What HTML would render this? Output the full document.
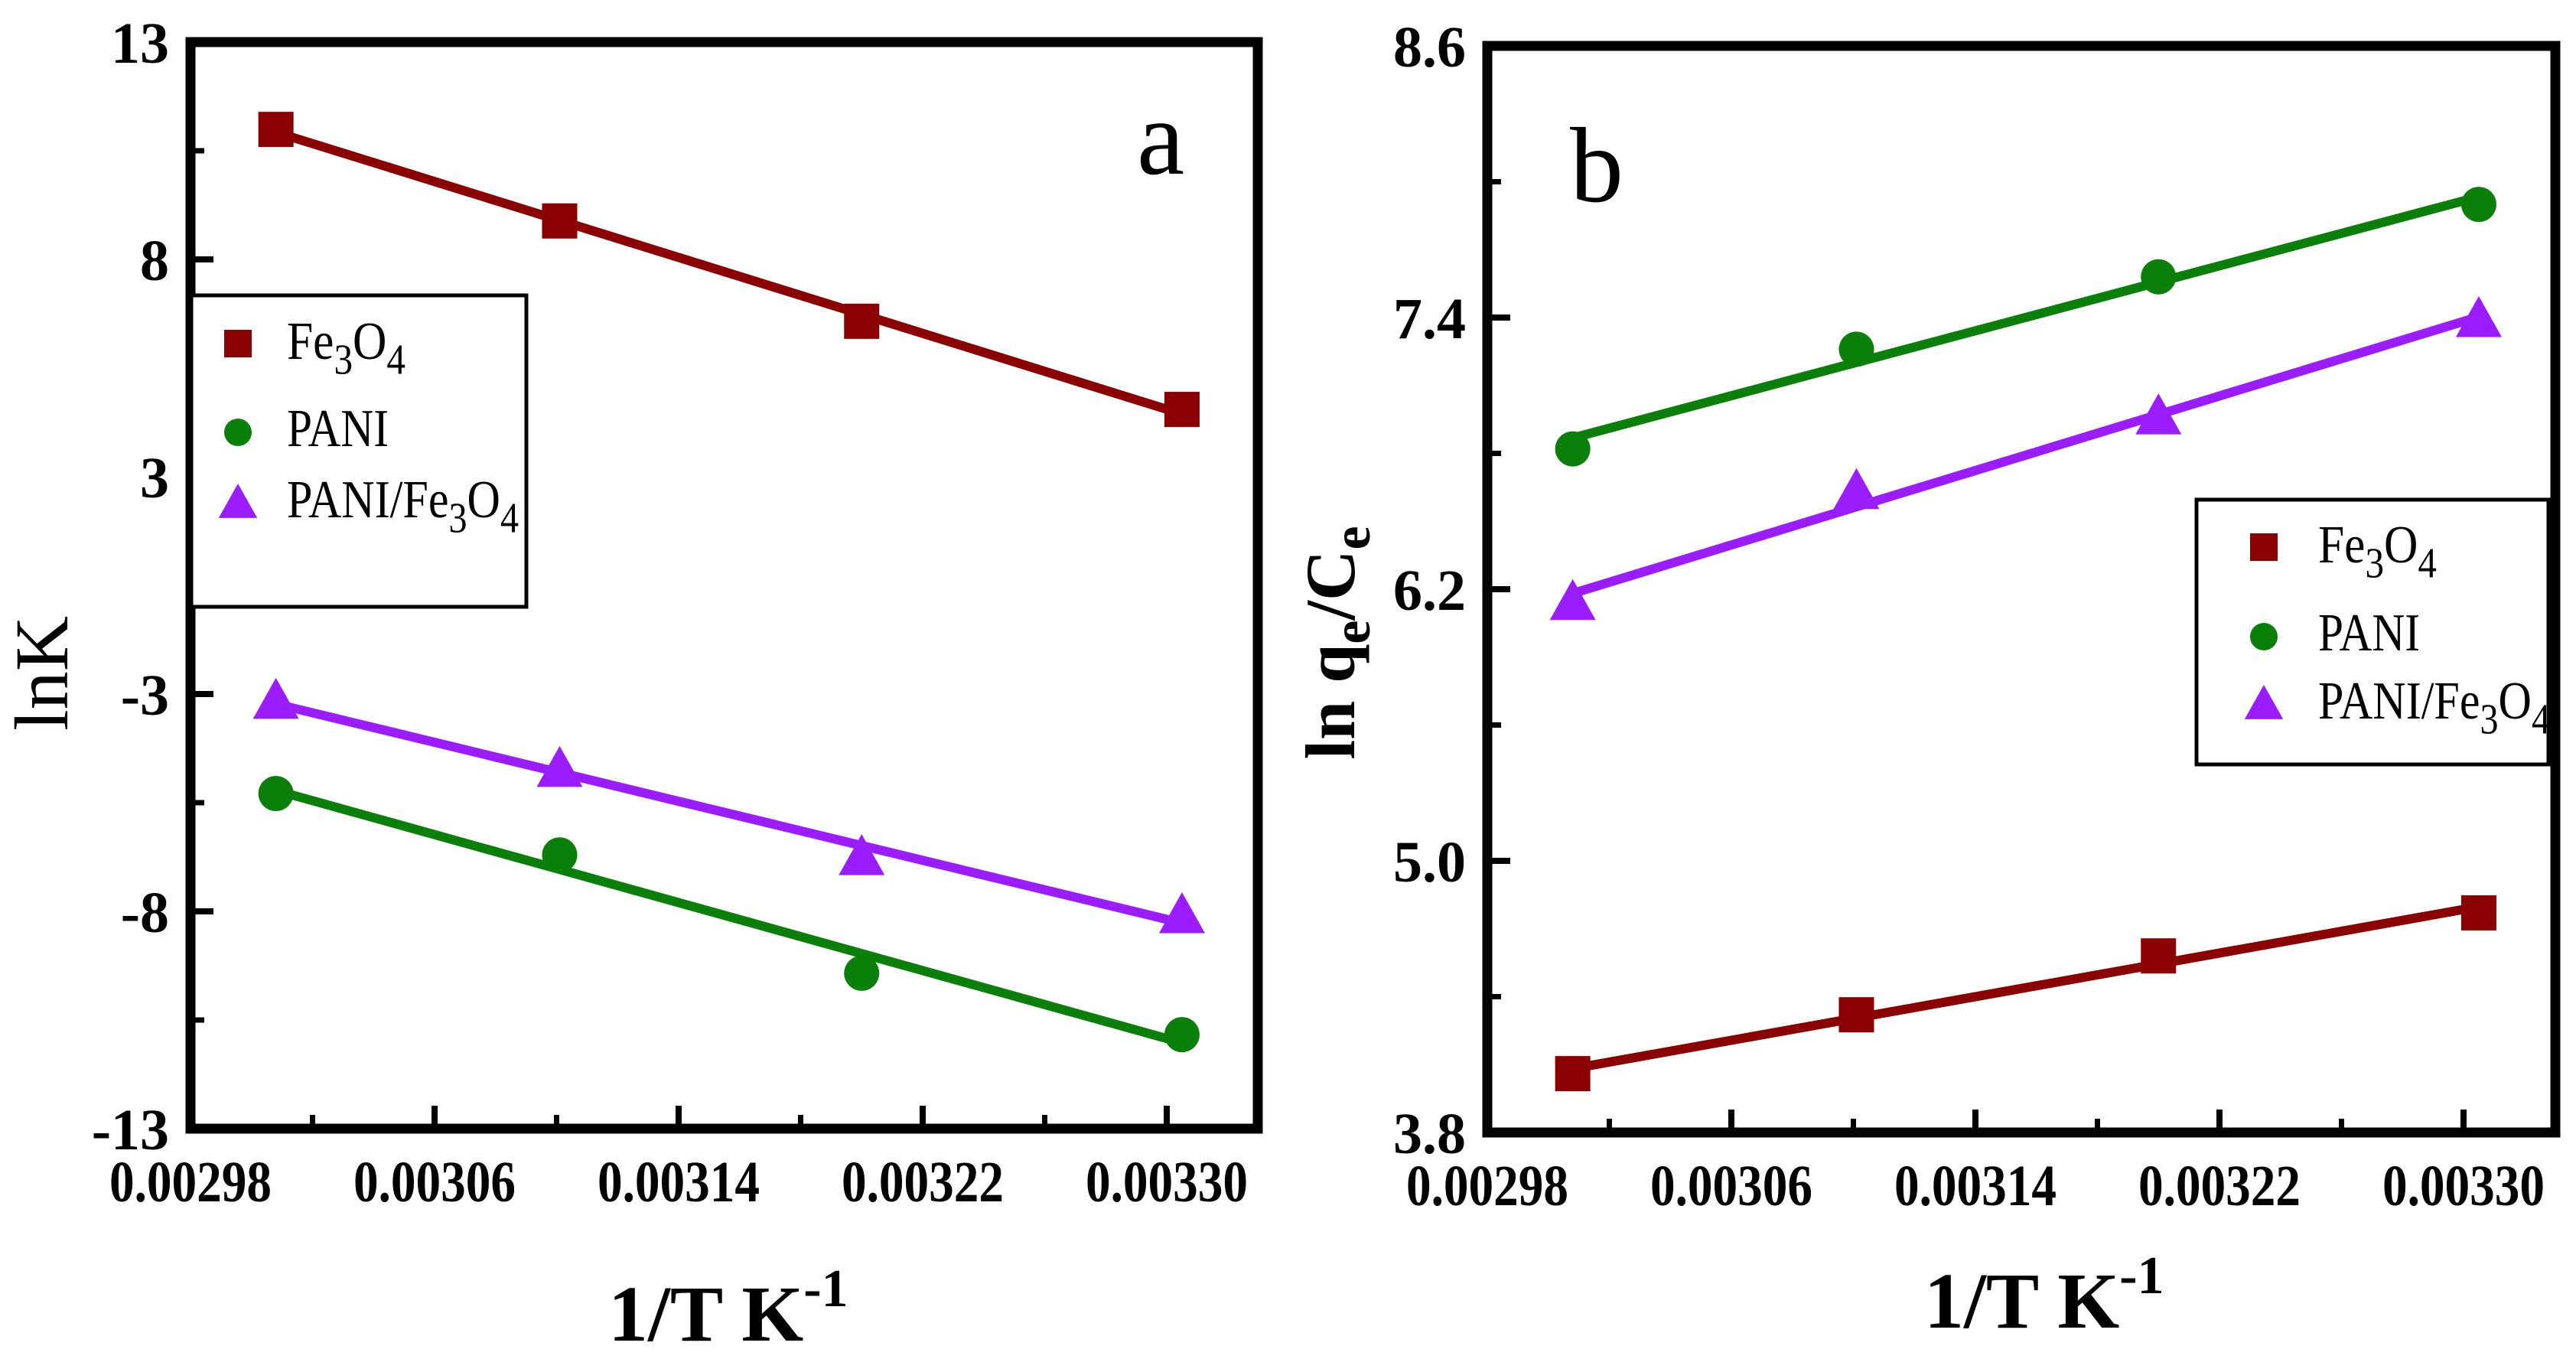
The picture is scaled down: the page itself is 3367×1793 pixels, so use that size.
<!DOCTYPE html>
<html><head><meta charset="utf-8"><style>
html,body{margin:0;padding:0;background:#fff;}
svg{display:block;font-family:"Liberation Serif",serif;}
</style></head><body>
<svg id="chart" width="3367" height="1793" viewBox="0 0 3367 1793">
<g id="pa"></g>
<g id="pb"></g>
</svg>
<script>
const xValues = [0.003008, 0.003101, 0.0032, 0.003305];
const aFe = [10.91, 8.72, 6.32, 4.21];
const aPani = [-4.98, -6.45, -9.28, -10.75];
const aComp = [-2.78, -4.41, -6.52, -7.91];
const bFe = [4.06, 4.32, 4.58, 4.77];
const bPani = [6.82, 7.26, 7.58, 7.90];
const bComp = [6.14, 6.63, 6.96, 7.39];
const xTickValues = [0.00298, 0.00306, 0.00314, 0.00322, 0.0033];
const xTickLabels = ["0.00298", "0.00306", "0.00314", "0.00322", "0.00330"];
const aTickValues = [13, 7.8, 2.6, -2.6, -7.8, -13];
const aTickLabels = ["13", "8", "3", "-3", "-8", "-13"];
const bTickValues = [8.6, 7.4, 6.2, 5.0, 3.8];
const bTickLabels = ["8.6", "7.4", "6.2", "5.0", "3.8"];

const NS = "http://www.w3.org/2000/svg";
const COL = {fe: "#8b0000", pani: "#0a800a", comp: "#9a1cff"};
function mk(parent, tag, attrs) {
  const e = document.createElementNS(NS, tag);
  for (const k in attrs) e.setAttribute(k, attrs[k]);
  parent.appendChild(e);
  return e;
}
function fit(xs, ys) {
  const n = xs.length; let sx = 0, sy = 0, sxx = 0, sxy = 0;
  for (let i = 0; i < n; i++) { sx += xs[i]; sy += ys[i]; sxx += xs[i] * xs[i]; sxy += xs[i] * ys[i]; }
  const m = (n * sxy - sx * sy) / (n * sxx - sx * sx);
  return [m, (sy - m * sx) / n];
}
function marker(g, type, cx, cy, color, s) {
  let e;
  if (type === "sq") e = mk(g, "rect", {x: cx - s / 2, y: cy - s / 2, width: s, height: s, fill: color});
  else if (type === "ci") e = mk(g, "circle", {cx: cx, cy: cy, r: s / 2, fill: color});
  else e = mk(g, "polygon", {points: `${cx},${cy - s * 0.62} ${cx - s * 0.6},${cy + s * 0.45} ${cx + s * 0.6},${cy + s * 0.45}`, fill: color});
  return e;
}
function feText(g, x, y, prefix, fs, len) {
  const t = mk(g, "text", {x: x, y: y, "font-size": fs, textLength: len, lengthAdjust: "spacingAndGlyphs"});
  t.innerHTML = `${prefix}Fe<tspan dy="${fs * 0.28}" font-size="${fs * 0.8}">3</tspan><tspan dy="${-fs * 0.28}">O</tspan><tspan dy="${fs * 0.28}" font-size="${fs * 0.8}">4</tspan>`;
  return t;
}

function panel(g, cfg) {
  const L = cfg.L, R = cfg.R, T = cfg.T, B = cfg.B;
  const xmin = 0.00298, xmax = 0.00298 + (R - L) / cfg.xpx * 0.00032;
  const X = v => L + (v - xmin) / (xmax - xmin) * (R - L);
  const Y = v => B - (v - cfg.ymin) / (cfg.ymax - cfg.ymin) * (B - T);
  const series = [[cfg.fe, COL.fe, "sq", "fe3o4"], [cfg.pani, COL.pani, "ci", "pani"], [cfg.comp, COL.comp, "tr", "pani-fe3o4"]];
  series.forEach(([ys, col, type, nm]) => {
    const sg = mk(g, "g", {});
    
    
    const [m, b] = fit(xValues, ys);
    const x0 = xValues[0], x1 = xValues[xValues.length - 1];
    const ln = mk(sg, "line", {x1: X(x0), y1: Y(m * x0 + b), x2: X(x1), y2: Y(m * x1 + b), stroke: col, "stroke-width": 12});
    
    
    ys.forEach((v, i) => {
      const p = marker(sg, type, X(xValues[i]), Y(v), col, type === "tr" ? 50 : 46);
      
      
    });
  });
  const fr = mk(g, "rect", {x: L, y: T, width: R - L, height: B - T, fill: "none", stroke: "#000", "stroke-width": 13});
  
  
  for (let i = 0; i < xTickValues.length; i++) {
    const x = X(xTickValues[i]);
    mk(g, "line", {x1: x, y1: B, x2: x, y2: B - 30, stroke: "#000", "stroke-width": 8});
    const xm = X(xTickValues[i] + 0.00004);
    if (xm < R - 10) mk(g, "line", {x1: xm, y1: B, x2: xm, y2: B - 18, stroke: "#000", "stroke-width": 7});
    const t = mk(g, "text", {x: x, y: B + 95, "font-size": 76, "font-weight": "bold", "text-anchor": "middle", textLength: 212, lengthAdjust: "spacingAndGlyphs"});
    t.textContent = xTickLabels[i];
    
    
  }
  for (let i = 0; i < cfg.yt.length; i++) {
    const y = Y(cfg.yt[i]);
    mk(g, "line", {x1: L, y1: y, x2: L + 30, y2: y, stroke: "#000", "stroke-width": 8});
    if (i < cfg.yt.length - 1) { const ym = Y((cfg.yt[i] + cfg.yt[i + 1]) / 2); mk(g, "line", {x1: L, y1: ym, x2: L + 18, y2: ym, stroke: "#000", "stroke-width": 7}); }
    const t = mk(g, "text", {x: L - 28, y: y + 27, "font-size": 76, "text-anchor": "end", "font-weight": "bold"});
    t.textContent = cfg.yl[i];
    
    
  }
  const pl = mk(g, "text", {x: cfg.letter[0], y: cfg.letter[1], "font-size": 140});
  pl.textContent = cfg.letter[2];
  
  
  const xt = mk(g, "text", {x: cfg.xt[0], y: cfg.xt[1], "font-size": 104, "font-weight": "bold"});
  xt.innerHTML = `1/T K<tspan dy="-45" font-size="70">-1</tspan>`;
  
  
  const lg = mk(g, "g", {});
  
  
  const lb = cfg.leg;
  mk(lg, "rect", {x: lb.x, y: lb.y, width: lb.w, height: lb.h, fill: "#fff", stroke: "#000", "stroke-width": 5});
  const rows = [["sq", COL.fe, "fe3o4"], ["ci", COL.pani, "pani"], ["tr", COL.comp, "pani-fe3o4"]];
  rows.forEach((r, i) => {
    const cy = lb.rows[i];
    const m = marker(lg, r[0], lb.mx, cy, r[1], r[0] === "tr" ? 42 : 36);
    
    
    let t;
    if (i === 0) t = feText(lg, lb.tx, cy + 20, "", 70, 155);
    else if (i === 1) { t = mk(lg, "text", {x: lb.tx, y: cy + 18, "font-size": 70, textLength: 133, lengthAdjust: "spacingAndGlyphs"}); t.textContent = "PANI"; }
    else t = feText(lg, lb.tx, cy + 18, "PANI/", 70, 303);
    
    
  });
}

panel(document.getElementById("pa"), {L: 249, R: 1644, T: 55, B: 1475, xpx: 1276, ymin: -13, ymax: 13,
  fe: aFe, pani: aPani, comp: aComp, yt: aTickValues, yl: aTickLabels,
  letter: [1486, 227, "a"], xt: [795, 1752],
  leg: {x: 250, y: 386, w: 438, h: 407, mx: 311, tx: 375, rows: [449, 565, 658]}});
panel(document.getElementById("pb"), {L: 1944, R: 3340, T: 60, B: 1480, xpx: 1276, ymin: 3.8, ymax: 8.6,
  fe: bFe, pani: bPani, comp: bComp, yt: bTickValues, yl: bTickLabels,
  letter: [2052, 263, "b"], xt: [2515, 1735],
  leg: {x: 2871, y: 653, w: 460, h: 346, mx: 2959, tx: 3030, rows: [715, 832, 921]}});

const svg = document.getElementById("chart");
const ya = mk(svg, "text", {x: 0, y: 0, "font-size": 100, "text-anchor": "middle", transform: "translate(88,880) rotate(-90)"});
ya.textContent = "lnK";


const yb = mk(svg, "text", {x: 0, y: 0, "font-size": 92, "font-weight": "bold", "text-anchor": "middle", transform: "translate(1770,840) rotate(-90)"});
yb.innerHTML = `ln q<tspan dy="20" font-size="70">e</tspan><tspan dy="-20">/C</tspan><tspan dy="20" font-size="70">e</tspan>`;


</script>
</body></html>
